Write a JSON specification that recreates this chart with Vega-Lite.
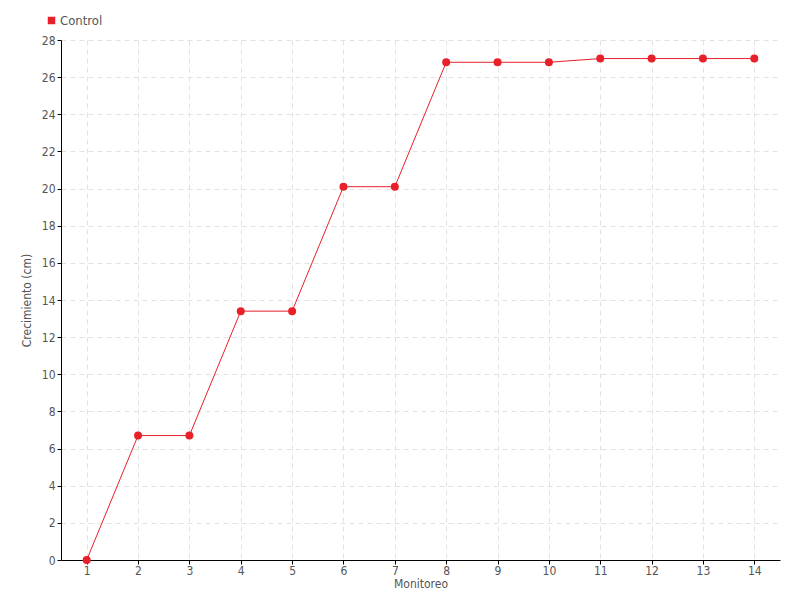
{
  "$schema": "https://vega.github.io/schema/vega-lite/v6.json",
  "width": 719,
  "height": 520,
  "autosize": {"type": "none"},
  "padding": {"left": 61, "top": 40, "right": 20, "bottom": 40},
  "background": "white",
  "config": {
    "font": "DejaVu Sans Condensed, Roboto, sans-serif",
    "view": {"stroke": null},
    "axis": {
      "labelColor": "#555555",
      "titleColor": "#555555",
      "labelFontSize": 12,
      "titleFontSize": 12,
      "titleFontWeight": "normal",
      "domainColor": "#000000",
      "tickColor": "#000000",
      "gridColor": "#e2e2e2",
      "gridDash": [5, 4]
    }
  },
  "data": {
    "values": [
      {"Monitoreo": 1, "Crecimiento": 0, "serie": "Control"},
      {"Monitoreo": 2, "Crecimiento": 6.7, "serie": "Control"},
      {"Monitoreo": 3, "Crecimiento": 6.7, "serie": "Control"},
      {"Monitoreo": 4, "Crecimiento": 13.4, "serie": "Control"},
      {"Monitoreo": 5, "Crecimiento": 13.4, "serie": "Control"},
      {"Monitoreo": 6, "Crecimiento": 20.1, "serie": "Control"},
      {"Monitoreo": 7, "Crecimiento": 20.1, "serie": "Control"},
      {"Monitoreo": 8, "Crecimiento": 26.8, "serie": "Control"},
      {"Monitoreo": 9, "Crecimiento": 26.8, "serie": "Control"},
      {"Monitoreo": 10, "Crecimiento": 26.8, "serie": "Control"},
      {"Monitoreo": 11, "Crecimiento": 27.0, "serie": "Control"},
      {"Monitoreo": 12, "Crecimiento": 27.0, "serie": "Control"},
      {"Monitoreo": 13, "Crecimiento": 27.0, "serie": "Control"},
      {"Monitoreo": 14, "Crecimiento": 27.0, "serie": "Control"}
    ]
  },
  "encoding": {
    "x": {
      "field": "Monitoreo",
      "type": "quantitative",
      "scale": {"domain": [0.5, 14.5], "nice": false, "zero": false},
      "axis": {
        "values": [1, 2, 3, 4, 5, 6, 7, 8, 9, 10, 11, 12, 13, 14],
        "format": "d",
        "title": "Monitoreo",
        "titlePadding": 2,
        "tickSize": 4,
        "labelPadding": 1
      }
    },
    "y": {
      "field": "Crecimiento",
      "type": "quantitative",
      "scale": {"domain": [0, 28], "nice": false},
      "axis": {
        "values": [0, 2, 4, 6, 8, 10, 12, 14, 16, 18, 20, 22, 24, 26, 28],
        "title": "Crecimiento (cm)",
        "titlePadding": 8,
        "tickSize": 4,
        "labelPadding": 2
      }
    },
    "color": {
      "field": "serie",
      "type": "nominal",
      "scale": {"range": ["#e8202a"]},
      "legend": {
        "title": null,
        "orient": "none",
        "legendX": -16,
        "legendY": -26,
        "symbolType": "square",
        "symbolSize": 36,
        "labelFontSize": 13,
        "labelColor": "#555555",
        "labelOffset": 2
      }
    }
  },
  "layer": [
    {"mark": {"type": "line", "strokeWidth": 1, "color": "#f04050"}},
    {"mark": {"type": "point", "filled": true, "opacity": 1, "size": 64}}
  ]
}
